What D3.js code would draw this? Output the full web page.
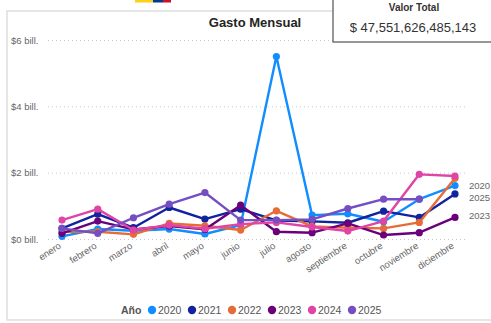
<!DOCTYPE html>
<html>
<head>
<meta charset="utf-8">
<script src="https://cdn.jsdelivr.net/npm/d3@7"></script>
<style>
  html, body { margin: 0; padding: 0; background: #fff; overflow: hidden; }
  svg { display: block; font-family: "Segoe UI", "Liberation Sans", Arial, sans-serif; }
</style>
</head>
<body>
<svg id="chart" width="491" height="323"></svg>
<script>
// Monthly spend (trillions of pesos) per year
const months = ["enero","febrero","marzo","abril","mayo","junio","julio","agosto","septiembre","octubre","noviembre","diciembre"];
const years = ["2020","2021","2022","2023","2024","2025"];
const colors = ["#118DFF","#12239E","#E66C37","#6B007B","#E044A7","#744EC2"];
const v2020 = [0.08, 0.30, 0.25, 0.30, 0.15, 0.42, 5.50, 0.72, 0.76, 0.52, 1.20, 1.61];
const v2021 = [0.32, 0.75, 0.34, 0.95, 0.60, 0.90, 0.56, 0.53, 0.49, 0.84, 0.65, 1.36];
const v2022 = [0.22, 0.22, 0.14, 0.47, 0.40, 0.27, 0.85, 0.38, 0.34, 0.32, 0.50, 1.83];
const v2023 = [0.17, 0.54, 0.29, 0.39, 0.29, 1.02, 0.22, 0.19, 0.47, 0.12, 0.19, 0.65];
const v2024 = [0.57, 0.90, 0.27, 0.42, 0.31, 0.45, 0.50, 0.36, 0.24, 0.54, 1.95, 1.90];
const v2025 = [0.32, 0.17, 0.64, 1.05, 1.40, 0.57, 0.57, 0.59, 0.92, 1.20, 1.20, null];
const seriesValues = [v2020, v2021, v2022, v2023, v2024, v2025];
const yTicks = [0, 2, 4, 6];
const endLabels = ["2020", "2025", "2023"];
const endLabelValues = [1.61, 1.25, 0.70];
const totalValue = 47551626485143;

const svg = d3.select("#chart");

// flag strip at the top
const flag = [["#FCD116", 135, 18], ["#003893", 153, 10], ["#CE1126", 163, 8]];
svg.selectAll("rect.flag").data(flag).join("rect")
  .attr("x", d => d[1]).attr("y", 0).attr("width", d => d[2]).attr("height", 2.5)
  .attr("fill", d => d[0]);

// visual frame
svg.append("rect").attr("x", 7).attr("y", 11).attr("width", 500).attr("height", 309)
  .attr("fill", "#fff").attr("stroke", "#d6d6d6").attr("stroke-width", 1.2);

const x = d3.scalePoint().domain(months).range([62, 455]);
const y = d3.scaleLinear().domain([0, 6]).range([239, 40]);

// title
svg.append("text").attr("x", 255).attr("y", 27).attr("text-anchor", "middle")
  .attr("font-size", 13).attr("font-weight", "bold").attr("fill", "#252423")
  .text("Gasto Mensual");

// y grid + labels
const yAxis = d3.axisLeft(y).tickValues(yTicks).tickSize(-419)
  .tickFormat(d => `$${d} bill.`);
const gy = svg.append("g").attr("transform", "translate(48,0)").call(yAxis);
gy.select(".domain").remove();
gy.selectAll(".tick line").attr("stroke", "#c8c8c8").attr("stroke-dasharray", "1,3");
gy.selectAll(".tick text").attr("x", -37).attr("text-anchor", "start")
  .attr("font-size", 9.5).attr("fill", "#666").style("font-family", "inherit");

// x axis labels
const xAxis = d3.axisBottom(x).tickSize(0);
const gx = svg.append("g").attr("transform", "translate(0,243)").call(xAxis);
gx.select(".domain").remove();
gx.selectAll(".tick text")
  .attr("text-anchor", "end").attr("font-size", 9.5).attr("fill", "#666")
  .style("font-family", "inherit")
  .attr("dy", "0.35em").attr("dx", 0).attr("y", 0).attr("x", -3)
  .attr("transform", "rotate(-33)");

// lines and markers
const line = d3.line().defined(d => d.v != null)
  .x(d => x(d.m)).y(d => y(d.v));
const series = years.map((yr, i) => ({
  year: yr, color: colors[i],
  pts: months.map((m, j) => ({ m, v: seriesValues[i][j] }))
}));
const gs = svg.append("g").selectAll("g").data(series).join("g");
gs.append("path").attr("fill", "none").attr("stroke", d => d.color)
  .attr("stroke-width", 2.4).attr("stroke-linejoin", "round")
  .attr("d", d => line(d.pts));
gs.selectAll("circle").data(d => d.pts.filter(p => p.v != null).map(p => ({ ...p, c: d.color })))
  .join("circle").attr("cx", d => x(d.m)).attr("cy", d => y(d.v)).attr("r", 3.6)
  .attr("fill", d => d.c);

// end-of-line labels
svg.selectAll("text.end").data(endLabels).join("text")
  .attr("class", "end").attr("x", 469).attr("y", (d, i) => y(endLabelValues[i]) + 3.5)
  .attr("font-size", 9.5).attr("fill", "#666").text(d => d);

// legend
const lg = svg.append("g").attr("transform", "translate(0,310)");
lg.append("text").attr("x", 121).attr("y", 4).attr("font-size", 10.5)
  .attr("font-weight", "bold").attr("fill", "#555").text("Año");
const li = lg.selectAll("g").data(years).join("g")
  .attr("transform", (d, i) => `translate(${152 + i * 40},0)`);
li.append("circle").attr("r", 4.2).attr("fill", (d, i) => colors[i]);
li.append("text").attr("x", 6).attr("y", 4).attr("font-size", 10.5).attr("fill", "#555").text(d => d);

// total value card
const card = svg.append("g");
card.append("rect").attr("x", 333).attr("y", -2).attr("width", 170).attr("height", 44)
  .attr("fill", "#fff").attr("stroke", "#606060").attr("stroke-width", 1.3);
card.append("text").attr("x", 414).attr("y", 11).attr("text-anchor", "middle")
  .attr("font-size", 10).attr("font-weight", "bold").attr("fill", "#333").text("Valor Total");
card.append("text").attr("x", 413).attr("y", 32).attr("text-anchor", "middle")
  .attr("font-size", 13).attr("fill", "#333")
  .text("$ " + d3.format(",.0f")(totalValue));
</script>
</body>
</html>
